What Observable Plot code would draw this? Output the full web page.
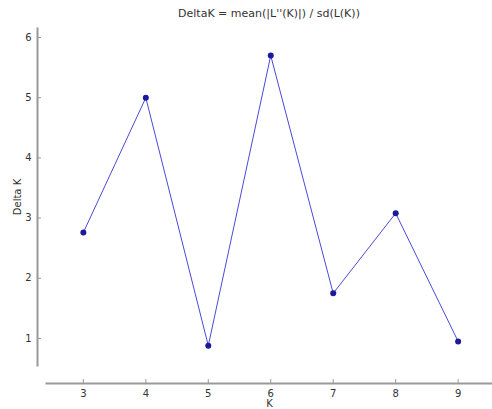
<!DOCTYPE html>
<html><head><meta charset="utf-8">
<script src="https://cdn.jsdelivr.net/npm/d3@7"></script>
<script src="https://cdn.jsdelivr.net/npm/@observablehq/plot@0.6"></script>
<style>
body{margin:0;background:#fff;}
#t{position:absolute;left:46px;top:7px;width:446px;text-align:center;font:11px "DejaVu Sans";color:#333;}
#c{position:absolute;left:0;top:0;}
</style></head>
<body><div id="c"></div><div id="t">DeltaK = mean(|L''(K)|) / sd(L(K))</div>
<script>
const ks = [3,4,5,6,7,8,9];
const yTicks = [1,2,3,4,5,6];
const deltaK = [2.76,5.0,0.88,5.70,1.75,3.08,0.95];
const data = ks.map((k,i)=>({k, d: deltaK[i]}));
const axisColor = "#999";
const chart = Plot.plot({
  width: 492, height: 409,
  marginLeft: 46, marginRight: 0, marginTop: 28, marginBottom: 44,
  style: {fontFamily: "DejaVu Sans", fontSize: "10px", color: "#333", background: "#fff"},
  x: {domain: [2.41, 9.55]},
  y: {domain: [0.55, 6.15]},
  marks: [
    Plot.frame({anchor: "left", dx: -9, stroke: axisColor, strokeWidth: 2, strokeOpacity: 1}),
    Plot.frame({anchor: "bottom", dy: 18, stroke: axisColor, strokeWidth: 2, strokeOpacity: 1}),
    Plot.axisY(yTicks, {dx: -9, tickSize: -4, tickPadding: 10, tickFormat: "d", stroke: axisColor, label: "Delta K", labelAnchor: "center", labelArrow: "none", labelOffset: 33, fill: "#333"}),
    Plot.axisX(ks, {dy: 18, tickSize: -4, tickPadding: 10, tickFormat: "d", stroke: axisColor, label: "K", labelAnchor: "center", labelArrow: "none", labelOffset: 41, fill: "#333"}),
    Plot.line(data, {x: "k", y: "d", stroke: "#4a4ad8", strokeWidth: 1}),
    Plot.dot(data, {x: "k", y: "d", r: 3, fill: "#1a1a9a", stroke: "none"})
  ]
});
document.getElementById("c").appendChild(chart);
</script></body></html>
